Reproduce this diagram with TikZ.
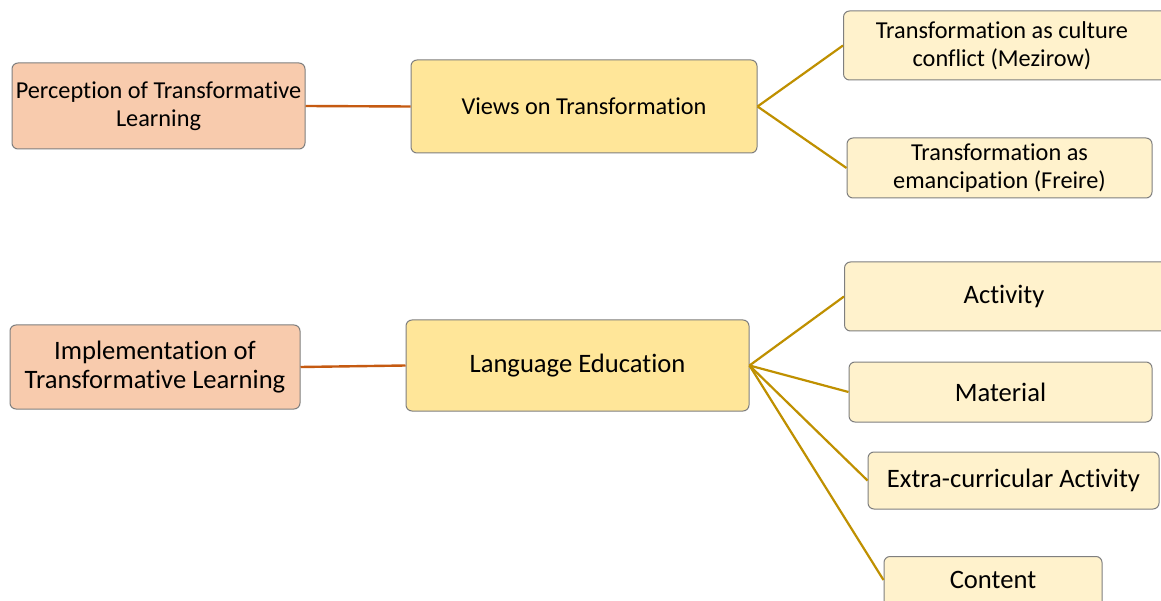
\documentclass[tikz,border=0pt]{standalone}
\usepackage{fontspec}
\setmainfont[Ligatures={NoCommon}]{Carlito}
\definecolor{rootfill}{HTML}{F8CBAD}
\definecolor{midfill}{HTML}{FFE699}
\definecolor{leaffill}{HTML}{FFF2CC}
\definecolor{rootline}{HTML}{C55A11}
\definecolor{leafline}{HTML}{BF9000}
\definecolor{boxedge}{HTML}{7F7F7F}
\tikzset{
  box/.style={draw=boxedge, line width=1pt, rounded corners=6pt, align=center,
    inner sep=0pt, text=black},
  rootbox/.style={box, fill=rootfill},
  midbox/.style={box, fill=midfill},
  leafbox/.style={box, fill=leaffill},
  topfont/.style={font=\fontsize{24.3}{27.5}\selectfont},
  lowfont/.style={font=\fontsize{26.6}{28.5}\selectfont},
  rootlink/.style={draw=rootline, line width=2.4pt},
  leaflink/.style={draw=leafline, line width=2.2pt},
}
\begin{document}
\begin{tikzpicture}[x=1pt,y=-1pt]
\clip (0,0) rectangle (1161,601);
\fill[white] (0,0) rectangle (1161,601);

% upper branch
\node[rootbox, topfont, minimum width=293pt, minimum height=86pt] (perc) at (158.5,106)
  {Perception of Transformative\\Learning};
\node[midbox, topfont, minimum width=346pt, minimum height=93pt] (views) at (584,106.5)
  {Views on Transformation};
\node[leafbox, minimum width=340pt, minimum height=69pt, anchor=west] (mezirow) at (843,45.5) {};
\node[topfont, align=center] (mezirowtxt) at (1002,46) {Transformation as culture\\conflict (Mezirow)};
\node[leafbox, topfont, minimum width=305pt, minimum height=60pt] (freire) at (999.5,168)
  {Transformation as\\emancipation (Freire)};

\draw[rootlink] (perc.east) -- (views.west);
\draw[leaflink] (views.east) -- (mezirow.west);
\draw[leaflink] (views.east) -- (freire.west);

% lower branch
\node[rootbox, lowfont, minimum width=290pt, minimum height=84pt] (impl) at (155,367)
  {Implementation of\\Transformative Learning};
\node[midbox, lowfont, minimum width=343pt, minimum height=91pt] (lang) at (577.5,365.5)
  {Language Education};
\node[leafbox, minimum width=340pt, minimum height=69pt, anchor=west] (act) at (844,296.5) {};
\node[lowfont] (acttxt) at (1004,296.5) {Activity};
\node[leafbox, lowfont, minimum width=303pt, minimum height=60pt] (mat) at (1000.5,392)
  {Material};
\node[leafbox, lowfont, minimum width=291pt, minimum height=57pt] (extra) at (1013.5,480.5)
  {Extra-curricular Activity};
\node[leafbox, minimum width=218pt, minimum height=60pt, anchor=north] (cont) at (993,556) {};
\node[lowfont] (conttxt) at (993,580) {Content};

\draw[rootlink] (impl.east) -- (lang.west);
\draw[leaflink] (lang.east) -- (act.west);
\draw[leaflink] (lang.east) -- (mat.west);
\draw[leaflink] (lang.east) -- (extra.west);
\draw[leaflink] (lang.east) -- (cont.west |- conttxt);
\end{tikzpicture}
\end{document}
